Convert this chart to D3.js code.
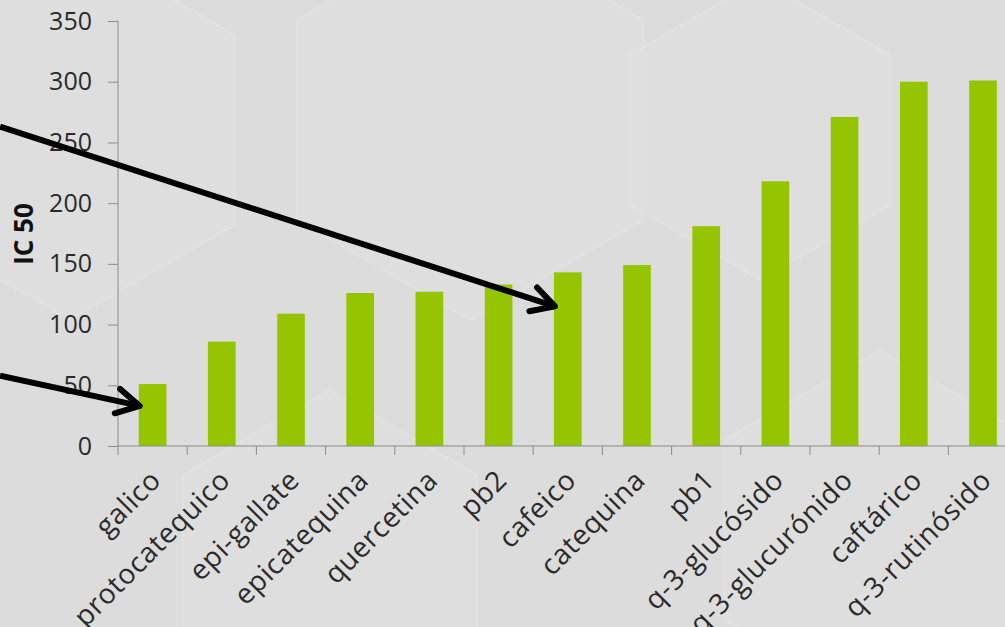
<!DOCTYPE html>
<html>
<head>
<meta charset="utf-8">
<script src="https://cdn.jsdelivr.net/npm/d3@7"></script>
<style>
  html, body { margin: 0; padding: 0; background: #dcdcdc; }
  svg { display: block; }
</style>
</head>
<body>
<svg width="1005" height="627"></svg>
<script>
const categories = ["galico", "protocatequico", "epi-gallate", "epicatequina", "quercetina", "pb2",
  "cafeico", "catequina", "pb1", "q-3-glucósido", "q-3-glucurónido", "caftárico", "q-3-rutinósido"]
const ic50 = [51, 86, 109, 126, 127, 133, 143, 149, 181, 218, 271, 300, 301]
const yTicks = [0, 50, 100, 150, 200, 250, 300, 350]

// arrows: start at the left page edge at a given value, end at a bar's left edge
const arrowFrom = [263, 58]
const arrowTo = [["cafeico", 115], ["galico", 33]]

const svg = d3.select("svg")

// faint hexagon decorations in the background
const bg = svg.append("g")
bg.append("rect").attr("width", 1005).attr("height", 627).attr("fill", "#dcdcdc")
const hex = (cx, cy, r) => d3.range(6).map(i => {
  const a = Math.PI / 3 * i + Math.PI / 6
  return [cx + r * Math.cos(a), cy + r * Math.sin(a)]
})
const hexes = [[70, 130, 190], [470, 120, 200], [330, 560, 170], [880, 530, 180], [760, 130, 150]]
bg.selectAll("polygon")
  .data(hexes)
  .enter()
  .append("polygon")
  .attr("points", d => hex(d[0], d[1], d[2]).join(" "))
  .attr("fill", "#dfdfdf")
  .attr("fill-opacity", 0.5)
  .attr("stroke", "#e2e2e2")
  .attr("stroke-width", 1.5)

const x = d3.scaleBand()
  .domain(categories)
  .range([118, 118 + 69.2 * categories.length])
  .paddingInner(0.6)
  .paddingOuter(0.3)

const y = d3.scaleLinear()
  .domain([0, 350])
  .range([446, 21])

const font = "'Open Sans', sans-serif"

// y axis
const yAxis = svg.append("g")
  .attr("transform", "translate(118,0)")
  .call(d3.axisLeft(y).tickValues(yTicks).tickSize(10).tickPadding(16))
yAxis.select(".domain").attr("stroke", "#8c8c8c").attr("d", `M0,${y(350)}V${y(0)}`)
yAxis.selectAll(".tick line").attr("stroke", "#8c8c8c")
yAxis.selectAll("text")
  .attr("font-family", font)
  .attr("font-size", 25)
  .attr("fill", "#2a2a2a")

svg.append("text")
  .attr("transform", "translate(33,234) rotate(-90)")
  .attr("text-anchor", "middle")
  .attr("font-family", font)
  .attr("font-weight", "bold")
  .attr("font-size", 26)
  .attr("fill", "#111")
  .text("IC 50")

// bars
svg.append("g")
  .selectAll("rect")
  .data(categories)
  .enter()
  .append("rect")
  .attr("x", d => x(d))
  .attr("width", x.bandwidth())
  .attr("y", (d, i) => y(ic50[i]))
  .attr("height", (d, i) => y(0) - y(ic50[i]))
  .attr("fill", "#94c500")

// x axis
const gap = (x.step() - x.bandwidth()) / 2
const xAxis = svg.append("g")
xAxis.append("line")
  .attr("x1", 118).attr("x2", 1005)
  .attr("y1", y(0)).attr("y2", y(0))
  .attr("stroke", "#8c8c8c")
xAxis.selectAll("line.tick")
  .data(categories)
  .enter()
  .append("line")
  .attr("class", "tick")
  .attr("x1", d => x(d) - gap).attr("x2", d => x(d) - gap)
  .attr("y1", y(0)).attr("y2", y(0) + 9)
  .attr("stroke", "#8c8c8c")
xAxis.selectAll("text")
  .data(categories)
  .enter()
  .append("text")
  .attr("transform", d => `translate(${x(d) + x.bandwidth() / 2 + 10},${y(0) + 36}) rotate(-45)`)
  .attr("text-anchor", "end")
  .attr("font-family", font)
  .attr("font-size", 28)
  .attr("letter-spacing", 0.6)
  .attr("fill", "#2a2a2a")
  .text(d => d)

// arrows
const arrows = svg.append("g")
arrowTo.forEach((t, i) => {
  const x1 = 0, y1 = y(arrowFrom[i])
  const x2 = x(t[0]) + 1, y2 = y(t[1])
  const ang = Math.atan2(y2 - y1, x2 - x1)
  const len = 26, spread = 0.5
  const w1 = [x2 - len * Math.cos(ang - spread), y2 - len * Math.sin(ang - spread)]
  const w2 = [x2 - len * Math.cos(ang + spread), y2 - len * Math.sin(ang + spread)]
  arrows.append("line")
    .attr("x1", x1).attr("y1", y1).attr("x2", x2).attr("y2", y2)
    .attr("stroke", "#000").attr("stroke-width", 6)
  arrows.append("path")
    .attr("d", d3.line()([w1, [x2, y2], w2]))
    .attr("fill", "none")
    .attr("stroke", "#000")
    .attr("stroke-width", 6)
    .attr("stroke-linecap", "round")
    .attr("stroke-linejoin", "round")
})
</script>
</body>
</html>
